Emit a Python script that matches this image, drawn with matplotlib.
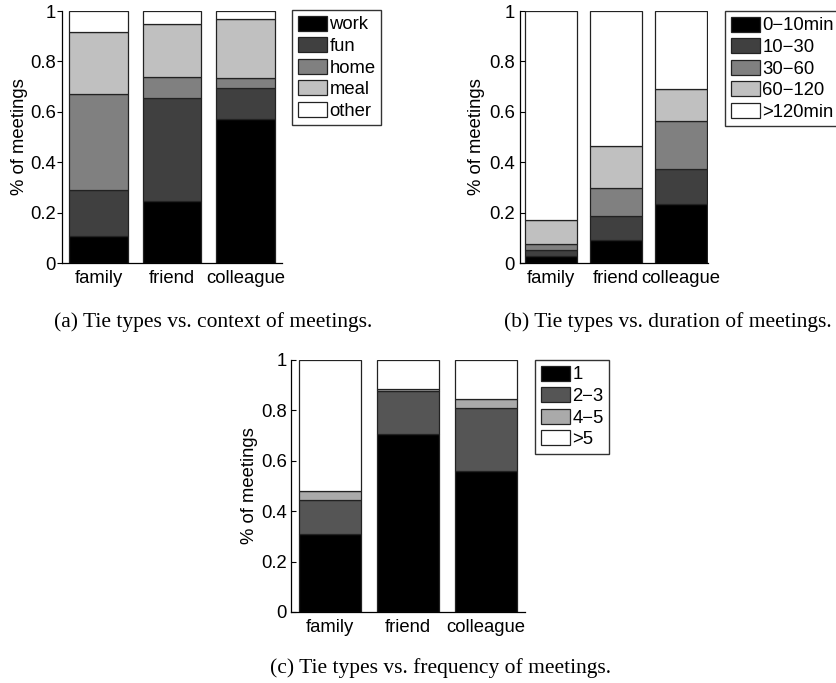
import matplotlib
matplotlib.use("Agg")
import matplotlib.pyplot as plt
from matplotlib.patches import Patch
import numpy as np

plt.rcParams['font.family'] = ['Liberation Sans', 'DejaVu Sans']

categories = ["family", "friend", "colleague"]

# (a) context of meetings
context_labels = ["work", "fun", "home", "meal", "other"]
context_work = [0.108, 0.247, 0.573]
context_fun = [0.183, 0.408, 0.121]
context_home = [0.379, 0.083, 0.039]
context_meal = [0.245, 0.209, 0.235]
context_other = [0.085, 0.053, 0.032]
context_colors = ["#000000", "#404040", "#808080", "#c0c0c0", "#ffffff"]

# (b) duration of meetings
duration_labels = ["0\u221210min", "10\u221230", "30\u221260", "60\u2212120", ">120min"]
dur_0_10 = [0.026, 0.092, 0.236]
dur_10_30 = [0.027, 0.093, 0.137]
dur_30_60 = [0.024, 0.111, 0.192]
dur_60_120 = [0.095, 0.170, 0.125]
dur_120p = [0.828, 0.534, 0.310]
duration_colors = ["#000000", "#404040", "#808080", "#c0c0c0", "#ffffff"]

# (c) frequency of meetings
freq_labels = ["1", "2\u22123", "4\u22125", ">5"]
freq_1 = [0.310, 0.707, 0.560]
freq_2_3 = [0.135, 0.170, 0.250]
freq_4_5 = [0.037, 0.009, 0.037]
freq_5p = [0.518, 0.114, 0.153]
freq_colors = ["#000000", "#555555", "#aaaaaa", "#ffffff"]

yticks = [0, 0.2, 0.4, 0.6, 0.8, 1.0]
yticklabels = ["0", "0.2", "0.4", "0.6", "0.8", "1"]

W, H = 837, 683
fig = plt.figure(figsize=(W / 100, H / 100), dpi=100)

EDGE = "#222222"
FS = 13.3


def px_axes(left, top, right, bottom):
    return fig.add_axes([left / W, 1 - bottom / H, (right - left) / W, (bottom - top) / H])


def stacked(ax, series, colors, xlim, tickdir, pad, lpad):
    x = np.arange(1, len(categories) + 1)
    bottom = np.zeros(len(categories))
    for vals, c in zip(series, colors):
        ax.bar(x, vals, 0.8, bottom=bottom, color=c, edgecolor=EDGE, linewidth=0.9)
        bottom = bottom + np.array(vals)
    ax.set_xlim(*xlim)
    ax.set_ylim(0, 1)
    ax.set_xticks(x)
    ax.set_xticklabels(categories, fontsize=FS)
    ax.set_yticks(yticks)
    ax.set_yticklabels(yticklabels, fontsize=FS)
    ax.tick_params(axis='y', direction=tickdir, length=3.5, width=0.8, pad=pad)
    ax.tick_params(axis='x', length=0, pad=5)
    for s in ["top", "right"]:
        ax.spines[s].set_visible(False)
    for s in ["left", "bottom"]:
        ax.spines[s].set_linewidth(0.9)
    ax.set_ylabel("% of meetings", fontsize=FS, labelpad=lpad)


def legend(labels, colors, left, top):
    handles = [Patch(facecolor=c, edgecolor=EDGE, linewidth=0.9) for c in colors]
    lg = fig.legend(handles, labels, loc="upper left",
                    bbox_to_anchor=(left / W, 1 - top / H),
                    bbox_transform=fig.transFigure,
                    fontsize=FS, handlelength=1.62, handleheight=0.87,
                    handletextpad=0.1, labelspacing=0.2, borderpad=0.3,
                    borderaxespad=0, fancybox=False, frameon=True)
    fr = lg.get_frame()
    fr.set_edgecolor("black")
    fr.set_linewidth(1.0)
    return lg


ax_a = px_axes(62, 11, 282, 263)
stacked(ax_a, [context_work, context_fun, context_home, context_meal, context_other],
        context_colors, (0.5, 3.5), 'out', 1, 1)
legend(context_labels, context_colors, 292, 10)

ax_b = px_axes(520, 11, 708, 263)
stacked(ax_b, [dur_0_10, dur_10_30, dur_30_60, dur_60_120, dur_120p],
        duration_colors, (0.52, 3.415), 'in', 3.6, 3)
legend(duration_labels, duration_colors, 725, 11)

ax_c = px_axes(291, 360, 525, 612)
stacked(ax_c, [freq_1, freq_2_3, freq_4_5, freq_5p], freq_colors, (0.5, 3.5), 'in', 3, 2)
legend(freq_labels, freq_colors, 535, 360)

cap_font = dict(family=['Liberation Serif', 'DejaVu Serif'], fontsize=15.5,
                ha="center", va="center")
fig.text(213 / W, 1 - 322 / H, "(a) Tie types vs. context of meetings.", **cap_font)
fig.text(668 / W, 1 - 322 / H, "(b) Tie types vs. duration of meetings.", **cap_font)
fig.text(441 / W, 1 - 668 / H, "(c) Tie types vs. frequency of meetings.", **cap_font)

fig.savefig("out.png", dpi=100)
